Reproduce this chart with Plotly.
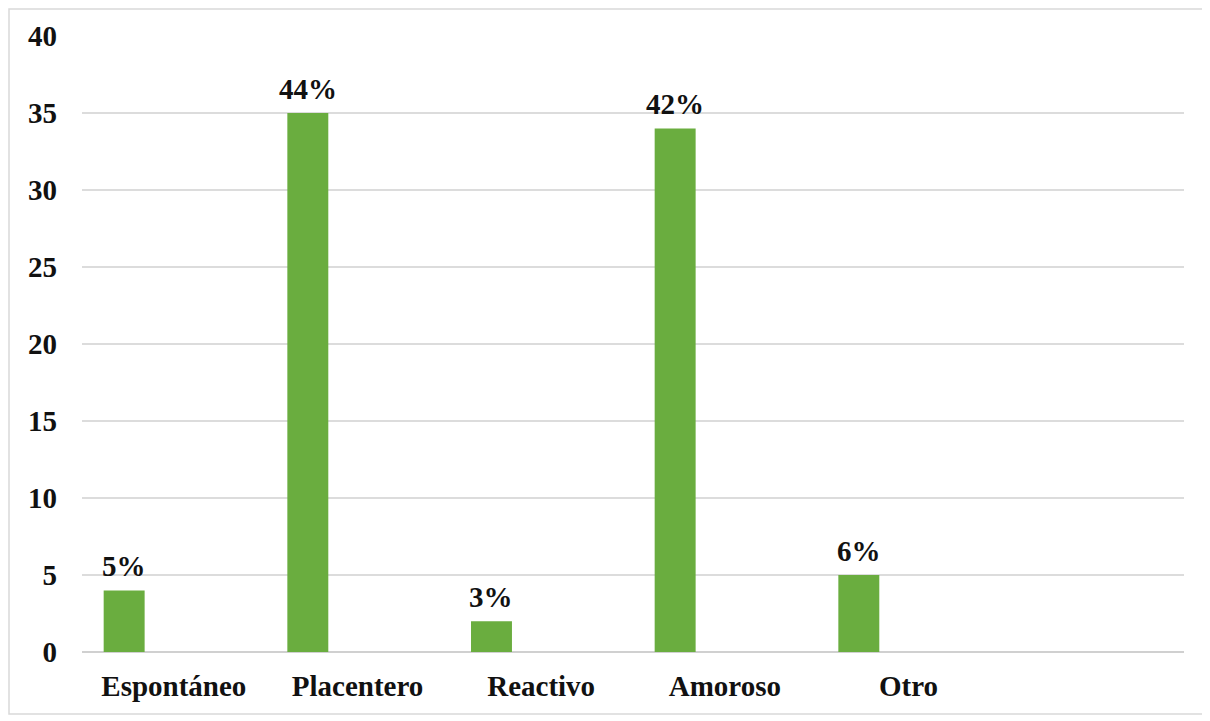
import plotly.graph_objects as go

# values
CATEGORIAS = ["Espontáneo", "Placentero", "Reactivo", "Amoroso", "Otro"]
VALORES = [4, 35, 2, 34, 5]
PORCENTAJES = ["5%", "44%", "3%", "42%", "6%"]
Y_TICKS = [0, 5, 10, 15, 20, 25, 30, 35, 40]

# page has an 8px body margin, so the figure is a bit smaller than the window
W, H = 1202, 713
L, R, T, B = 74, 26, 28, 69
FONT = "Times New Roman, Liberation Serif, DejaVu Serif, serif"

BAR_W = 0.223
BAR_OFF = -0.382

pos = list(range(len(CATEGORIAS)))

fig = go.Figure()
fig.add_trace(
    go.Bar(
        x=pos,
        y=VALORES,
        width=BAR_W,
        offset=BAR_OFF,
        marker=dict(color="#6aad3f", line=dict(width=0)),
        showlegend=False,
        hoverinfo="x+y",
    )
)

# percentage labels over each bar
for p, v, txt in zip(pos, VALORES, PORCENTAJES):
    fig.add_annotation(
        x=p + BAR_OFF + BAR_W / 2,
        y=v,
        text="<b>%s</b>" % txt,
        showarrow=False,
        yanchor="bottom",
        yshift=6,
        font=dict(family=FONT, size=29, color="#111111"),
    )

# light frame round the whole chart, as in the picture
pw, ph = W - L - R, H - T - B
fig.add_shape(
    type="rect",
    xref="paper",
    yref="paper",
    x0=(1 - L) / pw,
    x1=(W - 2 - L) / pw,
    y0=-(B - 7) / ph,
    y1=(ph + T - 1) / ph,
    line=dict(color="#d9d9d9", width=1.5),
    layer="below",
)

fig.update_xaxes(
    range=[-0.5, 5.5],
    tickmode="array",
    tickvals=pos,
    ticktext=["<b>%s</b>" % c for c in CATEGORIAS],
    tickfont=dict(family=FONT, size=29, color="#111111"),
    showgrid=False,
    showline=False,
    zeroline=False,
    ticks="",
    ticklabelstandoff=14,
)
fig.update_yaxes(
    range=[0, 40],
    tickmode="array",
    tickvals=Y_TICKS,
    ticktext=["<b>%d</b>" % v for v in Y_TICKS],
    tickfont=dict(family=FONT, size=29, color="#111111"),
    showgrid=True,
    gridcolor="#dcdcdc",
    gridwidth=1.5,
    zeroline=True,
    zerolinecolor="#d0d0d0",
    zerolinewidth=1.5,
    showline=False,
    ticks="",
    ticklabelstandoff=24,
)

fig.update_layout(
    width=W,
    height=H,
    margin=dict(l=L, r=R, t=T, b=B),
    plot_bgcolor="white",
    paper_bgcolor="white",
    font=dict(family=FONT),
)

fig.write_html("out.html")
